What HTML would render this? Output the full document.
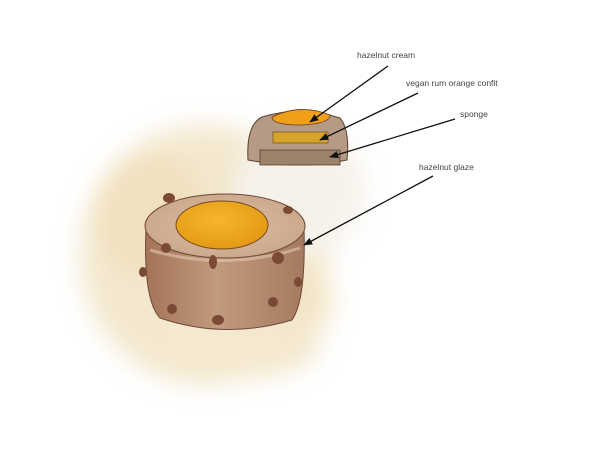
<!DOCTYPE html>
<html><head><style>
body{margin:0;width:600px;height:452px;background:#fff;overflow:hidden;font-family:"Liberation Sans",sans-serif}
</style></head><body>
<svg width="600" height="452" viewBox="0 0 600 452" xmlns="http://www.w3.org/2000/svg">
<defs>
<filter id="b" x="-50%" y="-50%" width="200%" height="200%"><feGaussianBlur stdDeviation="12"/></filter>
<marker id="a" viewBox="0 0 10 10" refX="9" refY="5" markerWidth="7" markerHeight="7" orient="auto"><path d="M0,1 L10,5 L0,9 z" fill="#111"/></marker>
<linearGradient id="side" x1="0" x2="1"><stop offset="0" stop-color="#a47457"/><stop offset=".45" stop-color="#c29a7e"/><stop offset="1" stop-color="#a57a60"/></linearGradient>
<radialGradient id="top" cx=".5" cy=".5" r=".6"><stop offset="0" stop-color="#dcc0a6"/><stop offset="1" stop-color="#c8a487"/></radialGradient>
<radialGradient id="or" cx=".45" cy=".4" r=".6"><stop offset="0" stop-color="#f6b62c"/><stop offset="1" stop-color="#e39a15"/></radialGradient>
</defs>
<g filter="url(#b)" opacity=".8">
<ellipse cx="205" cy="255" rx="125" ry="130" fill="#f1e2c2"/>
<ellipse cx="150" cy="215" rx="55" ry="60" fill="#ecd6a6" opacity=".7"/>
<ellipse cx="270" cy="305" rx="65" ry="45" fill="#efdcb2" opacity=".7"/>
<ellipse cx="300" cy="190" rx="65" ry="65" fill="#f4efe6"/>
<ellipse cx="230" cy="345" rx="90" ry="35" fill="#f2e3c2"/>
</g>
<path d="M146,228 Q143,300 160,318 Q225,340 292,320 Q306,300 304,228 Z" fill="url(#side)" stroke="#6e4a38" stroke-width="1"/>
<ellipse cx="225" cy="226" rx="80" ry="32" fill="url(#top)" stroke="#6e4a38" stroke-width="1"/>
<ellipse cx="222" cy="225" rx="46" ry="24" fill="url(#or)" stroke="#7a4a20" stroke-width="1"/>
<path d="M150,250 Q225,272 300,248" fill="none" stroke="#e2c8b0" stroke-width="3" opacity=".6"/>
<g fill="#7a4a35">
<ellipse cx="169" cy="198" rx="6" ry="5"/><ellipse cx="288" cy="210" rx="5" ry="4"/>
<ellipse cx="166" cy="248" rx="5" ry="5"/><ellipse cx="213" cy="262" rx="4" ry="7"/>
<ellipse cx="278" cy="258" rx="6" ry="6"/><ellipse cx="143" cy="272" rx="4" ry="5"/>
<ellipse cx="298" cy="282" rx="4" ry="5"/><ellipse cx="172" cy="309" rx="5" ry="5"/>
<ellipse cx="218" cy="320" rx="6" ry="5"/><ellipse cx="273" cy="302" rx="5" ry="5"/>
</g>
<path d="M248,160 Q246,125 262,117 Q300,105 340,118 Q350,130 347,160 Q300,170 248,160 Z" fill="#b59b86" stroke="#5a3f30" stroke-width="1"/>
<path d="M272,117 Q300,103 330,115 Q330,124 300,125 Q272,125 272,117 Z" fill="#f0a018" stroke="#6a4020" stroke-width=".8"/>
<rect x="273" y="132" width="55" height="11" fill="#d6a42a" stroke="#7a5a20" stroke-width=".8"/>
<rect x="260" y="150" width="80" height="15" fill="#9c8268" stroke="#5a4030" stroke-width=".8"/>
<g stroke="#111" stroke-width="1.3" marker-end="url(#a)">
<line x1="388" y1="66" x2="310" y2="122"/>
<line x1="418" y1="93" x2="320" y2="140"/>
<line x1="455" y1="119" x2="330" y2="157"/>
<line x1="433" y1="176" x2="304" y2="245"/>
</g>
<g font-size="8.5" fill="#444">
<text x="357" y="58">hazelnut cream</text>
<text x="406" y="86">vegan rum orange confit</text>
<text x="460" y="117">sponge</text>
<text x="419" y="170">hazelnut glaze</text>
</g>
</svg>
</body></html>
